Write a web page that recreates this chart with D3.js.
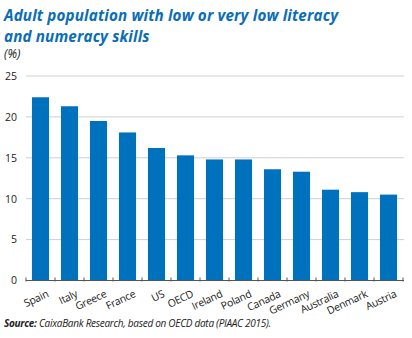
<!DOCTYPE html>
<html>
<head>
<meta charset="utf-8">
<script src="https://cdn.jsdelivr.net/npm/d3@7"></script>
<style>
  html, body { margin: 0; padding: 0; background: #fff; }
  svg { display: block; }
</style>
</head>
<body>
<div id="chart"></div>
<script>
// Share of adults with low or very low literacy and numeracy skills (%)
const countries = ["Spain", "Italy", "Greece", "France", "US", "OECD", "Ireland",
                   "Poland", "Canada", "Germany", "Australia", "Denmark", "Austria"];
const shares = [22.4, 21.3, 19.5, 18.1, 16.2, 15.3, 14.8, 14.8, 13.6, 13.3, 11.1, 10.8, 10.5];
const yTicks = [0, 5, 10, 15, 20, 25];

const W = 412, H = 338;
const blue = "#0a6db5";
const barBlue = "#0071bc";

const svg = d3.select("#chart").append("svg")
  .attr("width", W).attr("height", H);

const x = d3.scaleBand()
  .domain(countries)
  .range([26, 403])
  .paddingInner(0.41)
  .paddingOuter(0.205);

const y = d3.scaleLinear()
  .domain([0, 25])
  .range([280.5, 76]);

// Title (two lines)
const titleLines = ["Adult population with low or very low literacy", "and numeracy skills"];
svg.append("g")
  .selectAll("text")
  .data(titleLines)
  .join("text")
  .attr("x", 4).attr("y", (d, i) => 21 + i * 21)
  .attr("font-family", "'Open Sans', sans-serif")
  .attr("font-weight", 700)
  .attr("font-style", "italic")
  .attr("font-size", 15.2)
  .attr("letter-spacing", 0.15)
  .attr("fill", blue)
  .text(d => d);

// Unit label
svg.append("text")
  .attr("x", 4).attr("y", 58)
  .attr("font-family", "'Open Sans', sans-serif")
  .attr("font-style", "italic")
  .attr("font-size", 12)
  .attr("fill", "#222")
  .text("(%)");

// Gridlines
svg.append("g")
  .selectAll("line")
  .data(yTicks.filter(d => d > 0))
  .join("line")
  .attr("x1", 26).attr("x2", 404)
  .attr("y1", d => y(d)).attr("y2", d => y(d))
  .attr("stroke", "#cfcfcf")
  .attr("stroke-width", 1);

// Y axis labels
const yAxis = svg.append("g")
  .attr("transform", "translate(17,0)")
  .call(d3.axisLeft(y).tickValues(yTicks).tickSize(0).tickPadding(0));
yAxis.select(".domain").remove();
yAxis.selectAll("text")
  .attr("font-family", "'Open Sans', sans-serif")
  .attr("font-size", 10.5)
  .attr("fill", "#222");

// Bars
svg.append("g")
  .selectAll("rect")
  .data(countries)
  .join("rect")
  .attr("x", d => x(d))
  .attr("width", x.bandwidth())
  .attr("y", (d, i) => y(shares[i]))
  .attr("height", (d, i) => y(0) - y(shares[i]))
  .attr("fill", barBlue);

// Baseline with separators between categories
const base = svg.append("g");
base.append("line")
  .attr("x1", 26).attr("x2", 404)
  .attr("y1", y(0)).attr("y2", y(0))
  .attr("stroke", "#555").attr("stroke-width", 1);
const step = x.step();
const seps = d3.range(countries.length + 1).map(i => x(countries[0]) - x.paddingOuter() * step + i * step);
base.selectAll("line.sep")
  .data(seps)
  .join("line")
  .attr("class", "sep")
  .attr("x1", d => d).attr("x2", d => d)
  .attr("y1", y(0) - 3).attr("y2", y(0) + 1)
  .attr("stroke", "#555").attr("stroke-width", 1);

// Category labels
svg.append("g")
  .selectAll("text")
  .data(countries)
  .join("text")
  .attr("transform", d => `translate(${x(d) + x.bandwidth() / 2 + 5},${y(0) + 8}) rotate(-25)`)
  .attr("text-anchor", "end")
  .attr("dominant-baseline", "hanging")
  .attr("font-family", "'Open Sans', sans-serif")
  .attr("font-size", 10.5)
  .attr("letter-spacing", -0.3)
  .attr("fill", "#222")
  .text(d => d);

// Source note
const src = svg.append("text")
  .attr("x", 4).attr("y", 327)
  .attr("font-family", "'Open Sans', sans-serif")
  .attr("font-style", "italic")
  .attr("font-size", 10)
  .attr("letter-spacing", -0.28)
  .attr("fill", "#222");
src.append("tspan").attr("font-weight", 700).text("Source: ");
src.append("tspan").text("CaixaBank Research, based on OECD data (PIAAC 2015).");
</script>
</body>
</html>
